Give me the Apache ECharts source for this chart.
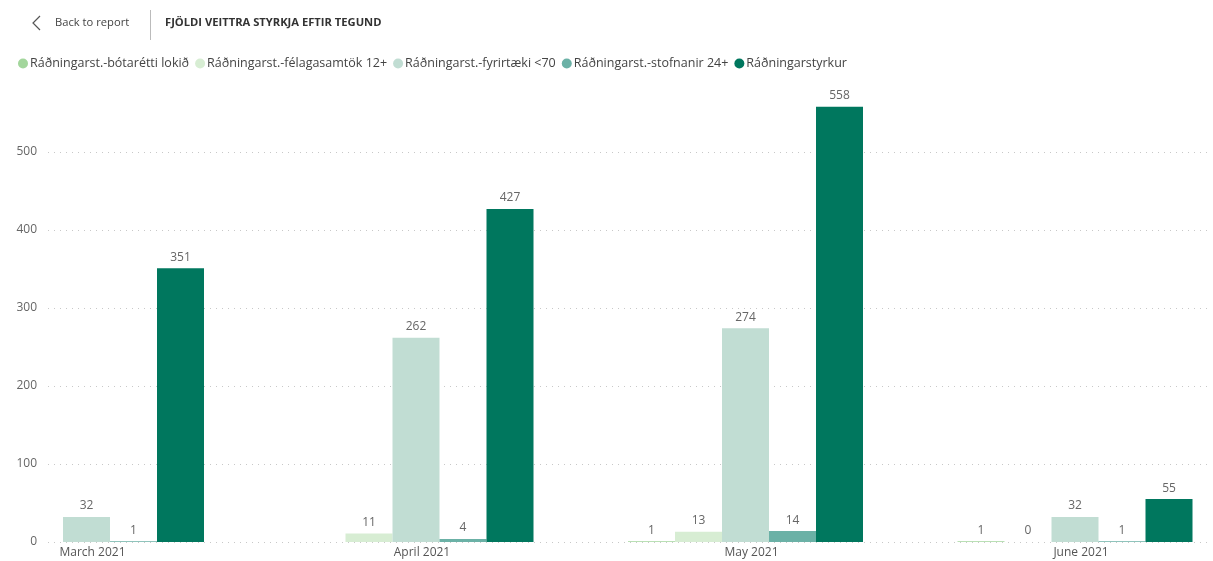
<!DOCTYPE html>
<html>
<head>
<meta charset="utf-8">
<script src="https://cdn.jsdelivr.net/npm/echarts@6/dist/echarts.min.js"></script>
<style>
html,body{margin:0;padding:0;background:#fff;}
#c{width:1213px;height:561px;}
</style>
</head>
<body>
<div id="c"></div>
<script>
var categories = ['March 2021', 'April 2021', 'May 2021', 'June 2021'];
var seriesNames = [
  'Ráðningarst.-bótarétti lokið',
  'Ráðningarst.-félagasamtök 12+',
  'Ráðningarst.-fyrirtæki <70',
  'Ráðningarst.-stofnanir 24+',
  'Ráðningarstyrkur'
];
var botarettiLokid = [null, null, 1, 1];
var felagasamtok = [null, 11, 13, 0];
var fyrirtaeki = [32, 262, 274, 32];
var stofnanir = [1, 4, 14, 1];
var radningarstyrkur = [351, 427, 558, 55];
var yTickMax = 500;

var colors = ['#A3D69C', '#D7EDD3', '#C1DDD3', '#6BB1A6', '#00775E'];
var values = [botarettiLokid, felagasamtok, fyrirtaeki, stofnanir, radningarstyrkur];
var FONT = 'Open Sans';

var chart = echarts.init(document.getElementById('c'));
var plotBottom = 542, pxPerUnit = 0.78, yMax = 590;
var gridBottom = 561 - plotBottom;

var series = seriesNames.map(function (n, i) {
  return {
    name: n,
    type: 'bar',
    xAxisIndex: 1,
    yAxisIndex: 1,
    data: values[i],
    barWidth: 47,
    barGap: '0%',
    clip: false,
    itemStyle: { color: colors[i] },
    label: {
      show: true,
      position: 'top',
      distance: 5,
      color: '#666',
      fontSize: 12,
      fontFamily: FONT
    }
  };
});

chart.setOption({
  animation: false,
  color: colors,
  textStyle: { fontFamily: FONT },
  graphic: [
    { type: 'polyline', shape: { points: [[40, 16], [33, 23], [40, 30]] },
      style: { stroke: '#555', lineWidth: 1.2, fill: null } },
    { type: 'text', left: 55, top: 17.5,
      style: { text: 'Back to report', fill: '#444', fontSize: 11.2, fontFamily: FONT } },
    { type: 'line', shape: { x1: 150.5, y1: 10, x2: 150.5, y2: 40 },
      style: { stroke: '#bbb', lineWidth: 1 } },
    { type: 'text', left: 165, top: 17,
      style: { text: 'FJÖLDI VEITTRA STYRKJA EFTIR TEGUND', fill: '#333', fontSize: 11.2,
        fontWeight: 'bold', fontFamily: FONT } }
  ],
  legend: {
    left: 13, top: 52,
    icon: 'circle',
    itemWidth: 10, itemHeight: 10,
    itemGap: 6,
    data: seriesNames,
    textStyle: { color: '#444', fontSize: 12.5, fontFamily: FONT, padding: [0, 0, 0, -3] }
  },
  grid: [
    { left: 48, right: 2, top: plotBottom - yTickMax * pxPerUnit, bottom: gridBottom },
    { left: 86.5, right: 138, top: plotBottom - yMax * pxPerUnit, bottom: gridBottom }
  ],
  xAxis: [
    { gridIndex: 0, type: 'value', min: 0, max: 1, show: false },
    {
      gridIndex: 1, type: 'category', data: categories, boundaryGap: false,
      axisLine: { show: false }, axisTick: { show: false },
      axisLabel: { color: '#555', fontSize: 12, fontFamily: FONT, margin: 5, padding: [0, 0, 0, 12] }
    }
  ],
  yAxis: [
    {
      gridIndex: 0, type: 'value', min: 0, max: yTickMax, interval: 100,
      axisLine: { show: false }, axisTick: { show: false },
      axisLabel: { color: '#666', fontSize: 12, fontFamily: FONT, margin: 11 },
      splitLine: { show: true, lineStyle: { color: '#c8c8c8', type: [1, 5], width: 1 } }
    },
    { gridIndex: 1, type: 'value', min: 0, max: yMax, show: false, splitLine: { show: false } }
  ],
  series: series
});
</script>
</body>
</html>
